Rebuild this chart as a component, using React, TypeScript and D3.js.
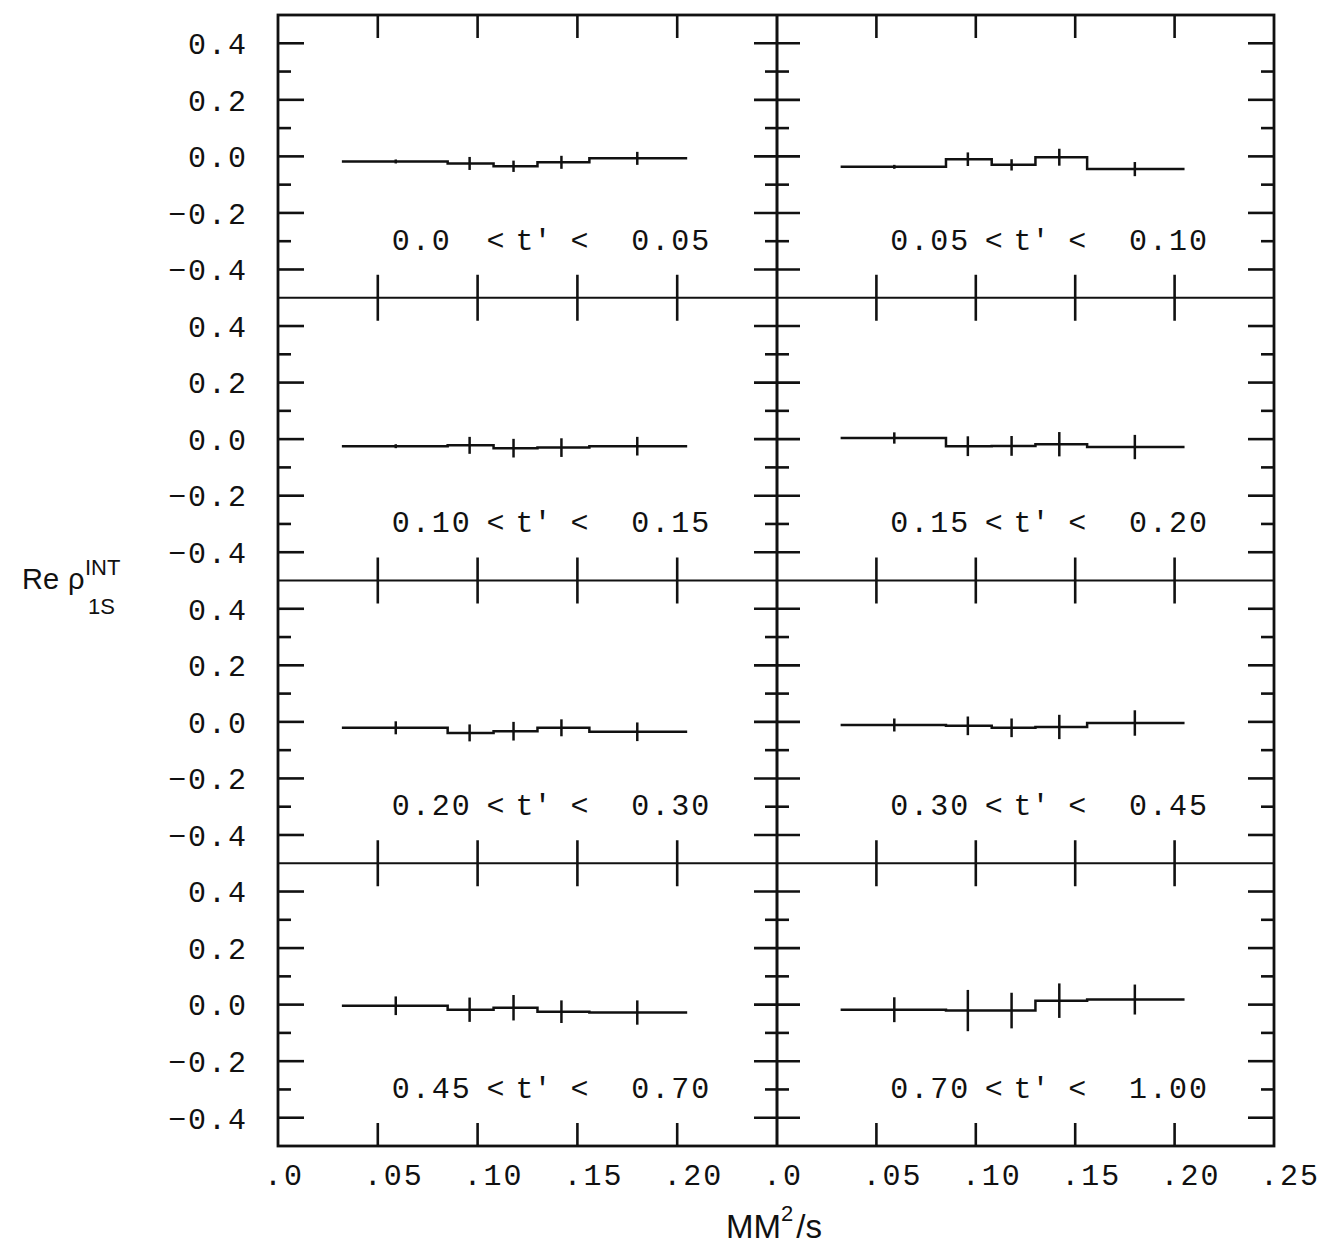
import * as d3 from "d3";

// t' bins of the eight panels (row by row, left then right)
const tLow = ["0.0", "0.05", "0.10", "0.15", "0.20", "0.30", "0.45", "0.70"];
const tHigh = ["0.05", "0.10", "0.15", "0.20", "0.30", "0.45", "0.70", "1.00"];

// MM^2/s bins (same in every panel)
const binLo = [0.032, 0.085, 0.108, 0.13, 0.156];
const binHi = [0.085, 0.108, 0.13, 0.156, 0.205];
const binMid = [0.059, 0.096, 0.118, 0.142, 0.18];

// Re rho^INT_1S values and errors
const vals1 = [-0.018, -0.025, -0.035, -0.021, -0.007];
const errs1 = [0.007, 0.023, 0.02, 0.023, 0.023];
const vals2 = [-0.037, -0.01, -0.03, -0.003, -0.045];
const errs2 = [0.007, 0.024, 0.02, 0.03, 0.025];
const vals3 = [-0.025, -0.022, -0.032, -0.03, -0.025];
const errs3 = [0.007, 0.03, 0.033, 0.033, 0.033];
const vals4 = [0.004, -0.025, -0.024, -0.018, -0.028];
const errs4 = [0.02, 0.035, 0.035, 0.043, 0.043];
const vals5 = [-0.021, -0.039, -0.033, -0.021, -0.035];
const errs5 = [0.023, 0.03, 0.033, 0.03, 0.033];
const vals6 = [-0.011, -0.014, -0.021, -0.018, -0.004];
const errs6 = [0.023, 0.033, 0.033, 0.043, 0.045];
const vals7 = [-0.004, -0.018, -0.011, -0.025, -0.028];
const errs7 = [0.033, 0.043, 0.045, 0.04, 0.043];
const vals8 = [-0.018, -0.021, -0.021, 0.014, 0.018];
const errs8 = [0.044, 0.073, 0.063, 0.061, 0.053];

const panelVals = [vals1, vals2, vals3, vals4, vals5, vals6, vals7, vals8];
const panelErrs = [errs1, errs2, errs3, errs4, errs5, errs6, errs7, errs8];

const yTickVals = [0.4, 0.3, 0.2, 0.1, 0, -0.1, -0.2, -0.3, -0.4];
const yLabelVals = [0.4, 0.2, 0, -0.2, -0.4];
const yLabels = ["0.4", "0.2", "0.0", "\u22120.2", "\u22120.4"];
const xTickVals = [0.05, 0.1, 0.15, 0.2];
const xLabelVals = [0, 0.05, 0.1, 0.15, 0.2, 0.25];
const xLabelsLeft = [".0", ".05", ".10", ".15", ".20"];
const xLabelsRight = [".0", ".05", ".10", ".15", ".20", ".25"];

const LEFT = 278;
const MID = 777;
const RIGHT = 1274;
const TOP = 15;
const ROWH = 282.75;
const BOTTOM = TOP + 4 * ROWH;

const INK = "#111";
const MONO = "'Liberation Mono', 'DejaVu Sans Mono', monospace";
const SANS = "'Liberation Sans', Arial, sans-serif";

function xScale(col: number) {
  return d3.scaleLinear().domain([0, 0.25]).range(col === 0 ? [LEFT, MID] : [MID, RIGHT]);
}
function yScale(row: number) {
  return d3.scaleLinear().domain([-0.5, 0.5]).range([TOP + (row + 1) * ROWH, TOP + row * ROWH]);
}

function Panel({ idx }: { idx: number }) {
  const row = Math.floor(idx / 2);
  const col = idx % 2;
  const x = xScale(col);
  const y = yScale(row);
  const vals = panelVals[idx];
  const errs = panelErrs[idx];
  const pts: [number, number][] = [];
  vals.forEach((v, i) => {
    pts.push([x(binLo[i]), y(v)]);
    pts.push([x(binHi[i]), y(v)]);
  });
  const path = d3.line()(pts) || "";
  const base = y(-0.33);
  return (
    <g>
      <path d={path} fill="none" stroke={INK} strokeWidth={2.5} />
      {vals.map((v, i) => (
        <line key={i} x1={x(binMid[i])} x2={x(binMid[i])} y1={y(v - errs[i])} y2={y(v + errs[i])}
          stroke={INK} strokeWidth={2.5} />
      ))}
      <g fontFamily={MONO} fontSize={30} fill={INK}>
        <text x={x(0.057)} y={base} letterSpacing={2}>{tLow[idx]}</text>
        <text x={x(0.109)} y={base} textAnchor="middle">{"<"}</text>
        <text x={x(0.128)} y={base} textAnchor="middle">{"t'"}</text>
        <text x={x(0.151)} y={base} textAnchor="middle">{"<"}</text>
        <text x={x(0.177)} y={base} letterSpacing={2}>{tHigh[idx]}</text>
      </g>
    </g>
  );
}

export default function App() {
  const ticks: JSX.Element[] = [];
  for (let r = 0; r < 4; r++) {
    const y = yScale(r);
    yTickVals.forEach((v, i) => {
      const major = Math.abs(Math.round(v * 10)) % 2 === 0;
      const yy = y(v);
      const len = major ? 26 : 13;
      const half = major ? 23 : 12;
      ticks.push(<line key={`l${r}-${i}`} x1={LEFT} x2={LEFT + len} y1={yy} y2={yy} />);
      ticks.push(<line key={`m${r}-${i}`} x1={MID - half} x2={MID + half} y1={yy} y2={yy} />);
      ticks.push(<line key={`r${r}-${i}`} x1={RIGHT - len} x2={RIGHT} y1={yy} y2={yy} />);
    });
  }
  for (let c = 0; c < 2; c++) {
    const x = xScale(c);
    for (let b = 0; b <= 4; b++) {
      const yy = TOP + b * ROWH;
      const y1 = b === 0 ? yy : yy - 23;
      const y2 = b === 4 ? yy : yy + 23;
      xTickVals.forEach((v, i) => {
        ticks.push(<line key={`x${c}-${b}-${i}`} x1={x(v)} x2={x(v)} y1={y1} y2={y2} />);
      });
    }
  }

  const xl = xScale(0);
  const xr = xScale(1);

  return (
    <svg width={1330} height={1251} style={{ position: "absolute", left: 0, top: 0, background: "#fff" }}>
      <rect x={0} y={0} width={1330} height={1251} fill="#fff" />
      <g stroke={INK} strokeWidth={2.6}>
        <rect x={LEFT} y={TOP} width={RIGHT - LEFT} height={BOTTOM - TOP} fill="none" strokeWidth={2.8} />
        {[1, 2, 3].map((b) => (
          <line key={b} x1={LEFT} x2={RIGHT} y1={TOP + b * ROWH} y2={TOP + b * ROWH} strokeWidth={2.2} />
        ))}
        <line x1={MID} x2={MID} y1={TOP} y2={BOTTOM} strokeWidth={3} />
        {ticks}
      </g>

      {d3.range(8).map((i) => <Panel key={i} idx={i} />)}

      <g fontFamily={MONO} fontSize={30} letterSpacing={2} fill={INK}>
        {d3.range(4).map((r) =>
          yLabelVals.map((v, i) => (
            <text key={`yl${r}-${i}`} x={248} y={yScale(r)(v)} dy="0.36em" textAnchor="end">{yLabels[i]}</text>
          ))
        )}
        {xLabelsLeft.map((t, i) => (
          <text key={`xl${i}`} x={xl(xLabelVals[i]) - 14} y={1185}>{t}</text>
        ))}
        {xLabelsRight.map((t, i) => (
          <text key={`xr${i}`} x={xr(xLabelVals[i]) - 14} y={1185}>{t}</text>
        ))}
      </g>

      <g fontFamily={SANS} fill={INK}>
        <text x={22} y={589} fontSize={29}>Re</text>
        <text x={68} y={589} fontSize={29}>ρ</text>
        <text x={85} y={575} fontSize={22}>INT</text>
        <text x={88} y={614} fontSize={22}>1S</text>
        <text x={726} y={1238} fontSize={33}>
          <tspan>MM</tspan>
          <tspan dy={-17} fontSize={22}>2</tspan>
          <tspan dy={17} dx={3}>/s</tspan>
        </text>
      </g>
    </svg>
  );
}
